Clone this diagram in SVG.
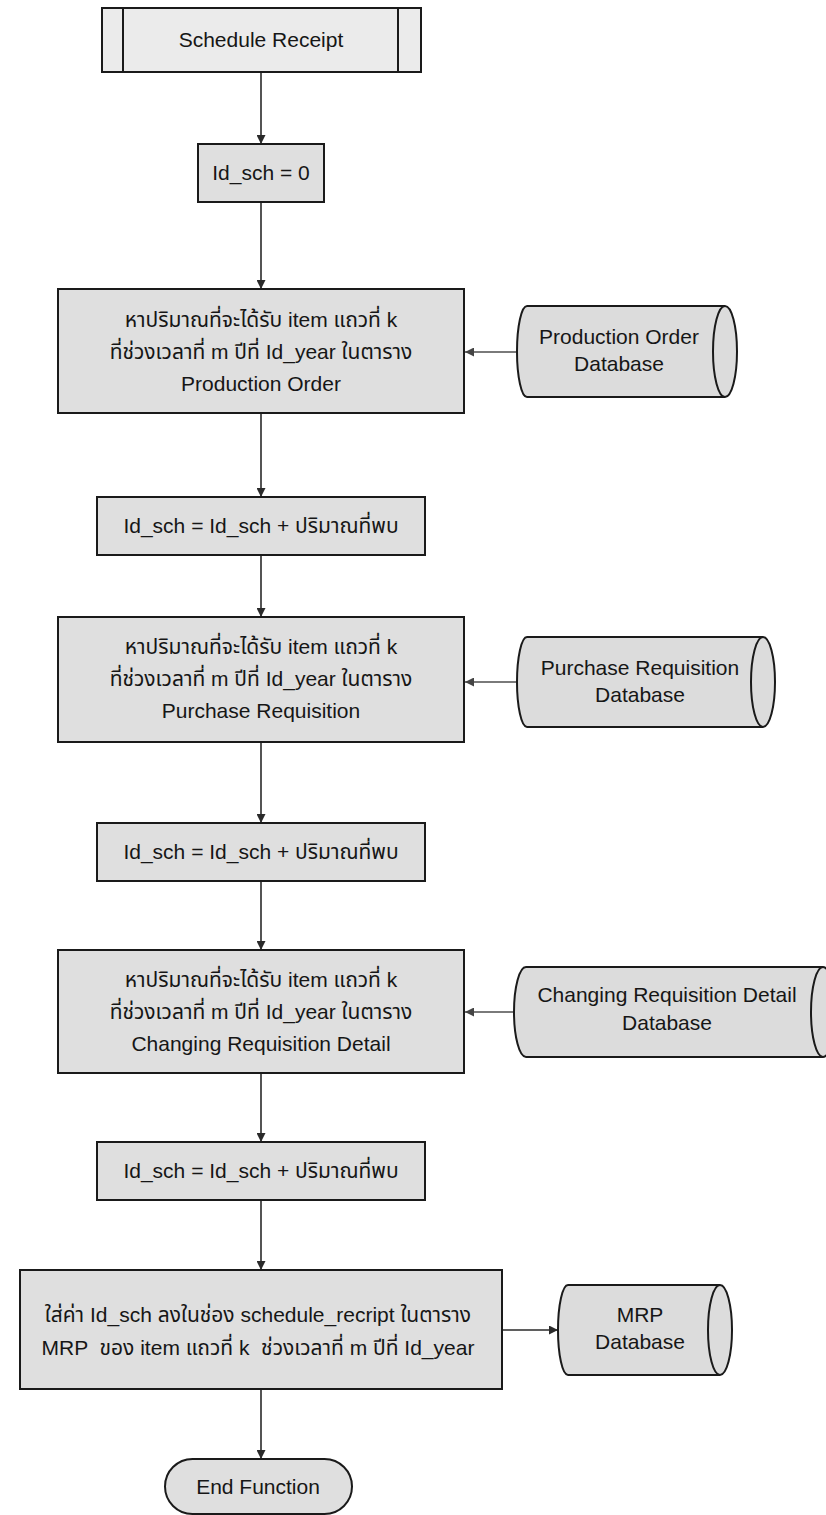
<svg xmlns="http://www.w3.org/2000/svg" width="826" height="1515" viewBox="0 0 826 1515">
  <defs>
    <marker id="arrowDown" viewBox="0 0 10 10" refX="10" refY="5" markerWidth="10" markerHeight="9" markerUnits="userSpaceOnUse" orient="auto">
      <path d="M0,0 L10,5 L0,10 Z" fill="#2a2a2a"/>
    </marker>
    <marker id="arrowSide" viewBox="0 0 10 10" refX="10" refY="5" markerWidth="10" markerHeight="9" markerUnits="userSpaceOnUse" orient="auto">
      <path d="M0,0 L10,5 L0,10 Z" fill="#444"/>
    </marker>
  </defs>
  <style>
    .box { fill: #dfdfdf; stroke: #1a1a1a; stroke-width: 2; }
    .start { fill: #ebebeb; stroke: #1a1a1a; stroke-width: 2; }
    .db { fill: #dcdcdc; stroke: #1a1a1a; stroke-width: 2; }
    .dbedge { fill: none; stroke: #1a1a1a; stroke-width: 2; }
    .inner { stroke: #1a1a1a; stroke-width: 2; }
    .t { font-family: "Liberation Sans", "Noto Sans Thai", "Noto Sans", "DejaVu Sans", sans-serif; font-size: 21px; fill: #161616; text-anchor: middle; white-space: pre; }
    .flow { fill: none; stroke: #2a2a2a; stroke-width: 1.6; marker-end: url(#arrowDown); }
    .feed { fill: none; stroke: #7a7a7a; stroke-width: 1.8; marker-end: url(#arrowSide); }
  </style>

  <rect width="826" height="1515" fill="#ffffff"/>

  <!-- connectors -->
  <g id="connectors">
    <line class="flow" x1="261" y1="72" x2="261" y2="144"/>
    <line class="flow" x1="261" y1="202" x2="261" y2="289"/>
    <line class="flow" x1="261" y1="413" x2="261" y2="497"/>
    <line class="flow" x1="261" y1="555" x2="261" y2="617"/>
    <line class="flow" x1="261" y1="742" x2="261" y2="823"/>
    <line class="flow" x1="261" y1="881" x2="261" y2="950"/>
    <line class="flow" x1="261" y1="1073" x2="261" y2="1142"/>
    <line class="flow" x1="261" y1="1200" x2="261" y2="1270"/>
    <line class="flow" x1="261" y1="1389" x2="261" y2="1459"/>
    <line class="feed" x1="517" y1="352" x2="465" y2="352"/>
    <line class="feed" x1="517" y1="682" x2="465" y2="682"/>
    <line class="feed" x1="514" y1="1012" x2="465" y2="1012"/>
    <line class="flow" x1="502" y1="1330" x2="558" y2="1330"/>
  </g>

  <!-- predefined process: start -->
  <g id="schedule-receipt">
    <rect class="start" x="102" y="8" width="319" height="64"/>
    <line class="inner" x1="123" y1="8" x2="123" y2="72"/>
    <line class="inner" x1="398" y1="8" x2="398" y2="72"/>
    <text class="t" x="261" y="47">Schedule Receipt</text>
  </g>

  <g id="init-sch">
    <rect class="box" x="198" y="144" width="126" height="58"/>
    <text class="t" x="261" y="180">Id_sch = 0</text>
  </g>

  <g id="find-production-order">
    <rect class="box" x="58" y="289" width="406" height="124"/>
    <text class="t" x="261" y="327">หาปริมาณที่จะได้รับ item แถวที่ k</text>
    <text class="t" x="261" y="359">ที่ช่วงเวลาที่ m ปีที่ Id_year ในตาราง</text>
    <text class="t" x="261" y="391">Production Order</text>
  </g>

  <g id="db-production-order">
    <path class="db" d="M527,306 H725 A12,45.5 0 0 1 725,397 H527 A10,45.5 0 0 1 527,306 Z"/>
    <path class="dbedge" d="M725,306 A12,45.5 0 0 0 725,397"/>
    <text class="t" x="619" y="344">Production Order</text>
    <text class="t" x="619" y="371">Database</text>
  </g>

  <g id="sum-1">
    <rect class="box" x="97" y="497" width="328" height="58"/>
    <text class="t" x="261" y="533">Id_sch = Id_sch + ปริมาณที่พบ</text>
  </g>

  <g id="find-purchase-requisition">
    <rect class="box" x="58" y="617" width="406" height="125"/>
    <text class="t" x="261" y="654">หาปริมาณที่จะได้รับ item แถวที่ k</text>
    <text class="t" x="261" y="686">ที่ช่วงเวลาที่ m ปีที่ Id_year ในตาราง</text>
    <text class="t" x="261" y="718">Purchase Requisition</text>
  </g>

  <g id="db-purchase-requisition">
    <path class="db" d="M527,637 H763 A12,45 0 0 1 763,727 H527 A10,45 0 0 1 527,637 Z"/>
    <path class="dbedge" d="M763,637 A12,45 0 0 0 763,727"/>
    <text class="t" x="640" y="675">Purchase Requisition</text>
    <text class="t" x="640" y="702">Database</text>
  </g>

  <g id="sum-2">
    <rect class="box" x="97" y="823" width="328" height="58"/>
    <text class="t" x="261" y="859">Id_sch = Id_sch + ปริมาณที่พบ</text>
  </g>

  <g id="find-changing-requisition">
    <rect class="box" x="58" y="950" width="406" height="123"/>
    <text class="t" x="261" y="987">หาปริมาณที่จะได้รับ item แถวที่ k</text>
    <text class="t" x="261" y="1019">ที่ช่วงเวลาที่ m ปีที่ Id_year ในตาราง</text>
    <text class="t" x="261" y="1051">Changing Requisition Detail</text>
  </g>

  <g id="db-changing-requisition">
    <path class="db" d="M526,967 H823 A12,45 0 0 1 823,1057 H526 A12,45 0 0 1 526,967 Z"/>
    <path class="dbedge" d="M823,967 A12,45 0 0 0 823,1057"/>
    <text class="t" x="667" y="1002">Changing Requisition Detail</text>
    <text class="t" x="667" y="1030">Database</text>
  </g>

  <g id="sum-3">
    <rect class="box" x="97" y="1142" width="328" height="58"/>
    <text class="t" x="261" y="1178">Id_sch = Id_sch + ปริมาณที่พบ</text>
  </g>

  <g id="store-mrp">
    <rect class="box" x="20" y="1270" width="482" height="119"/>
    <text class="t" x="258" y="1322">ใส่ค่า Id_sch ลงในช่อง schedule_recript ในตาราง</text>
    <text class="t" x="258" y="1355">MRP  ของ item แถวที่ k  ช่วงเวลาที่ m ปีที่ Id_year</text>
  </g>

  <g id="db-mrp">
    <path class="db" d="M568,1285 H720 A12,45 0 0 1 720,1375 H568 A10,45 0 0 1 568,1285 Z"/>
    <path class="dbedge" d="M720,1285 A12,45 0 0 0 720,1375"/>
    <text class="t" x="640" y="1322">MRP</text>
    <text class="t" x="640" y="1349">Database</text>
  </g>

  <g id="end-function">
    <rect class="box" x="165" y="1459" width="187" height="55" rx="27.5" ry="27.5"/>
    <text class="t" x="258" y="1494">End Function</text>
  </g>
</svg>
